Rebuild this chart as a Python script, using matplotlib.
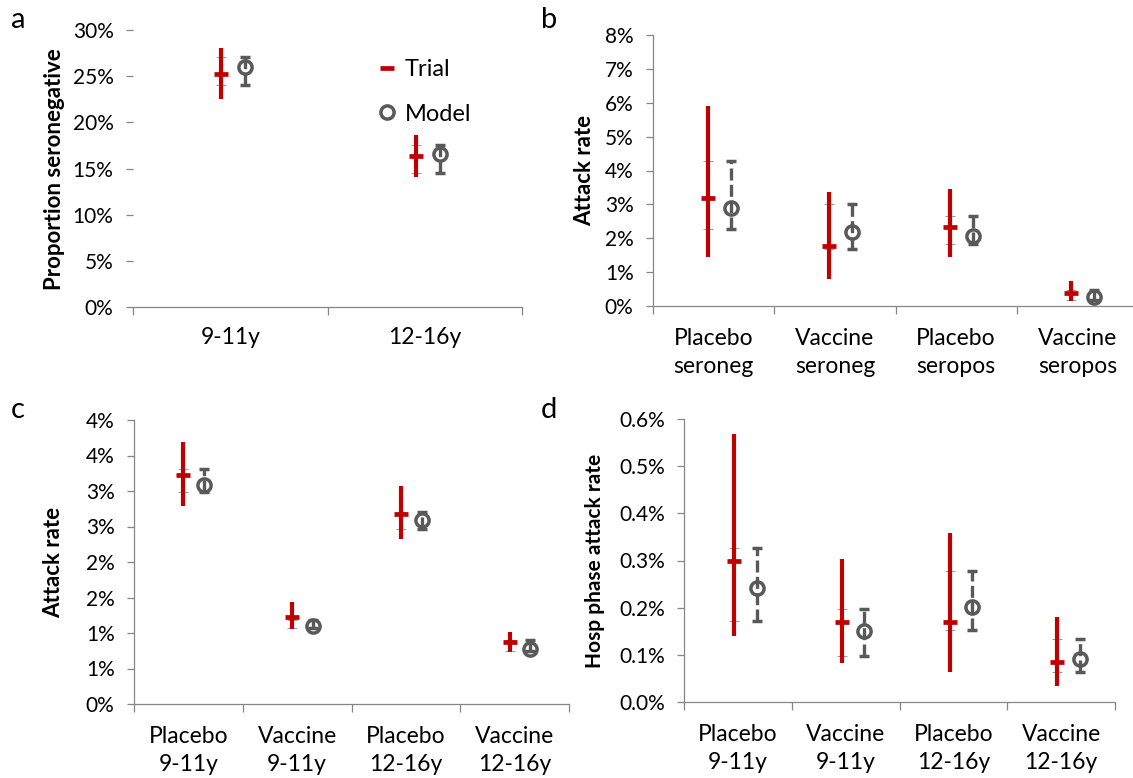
import numpy as np
import matplotlib
matplotlib.use("Agg")
import matplotlib.pyplot as plt
import matplotlib.ticker as mticker
from matplotlib.lines import Line2D

plt.rcParams["font.family"] = ["Lato", "DejaVu Sans"]

# ── Data (all values in %) ─────────────────────────────────────────────────────
age_groups = ["9-11y", "12-16y"]
seroneg_trial    = [25.2, 16.4]
seroneg_trial_lo = [22.5, 14.1]
seroneg_trial_hi = [28.0, 18.6]
seroneg_model    = [26.0, 16.6]
seroneg_model_lo = [24.1, 14.5]
seroneg_model_hi = [27.1, 17.6]

serostatus_groups = ["Placebo\nseroneg", "Vaccine\nseroneg",
                     "Placebo\nseropos", "Vaccine\nseropos"]
ar_sero_trial    = [3.18, 1.78, 2.33, 0.39]
ar_sero_trial_lo = [1.44, 0.81, 1.45, 0.16]
ar_sero_trial_hi = [5.91, 3.37, 3.44, 0.73]
ar_sero_model    = [2.88, 2.17, 2.07, 0.26]
ar_sero_model_lo = [2.26, 1.67, 1.83, 0.18]
ar_sero_model_hi = [4.29, 3.00, 2.66, 0.47]

arm_age_groups = ["Placebo\n9-11y", "Vaccine\n9-11y",
                  "Placebo\n12-16y", "Vaccine\n12-16y"]
ar_age_trial    = [3.23, 1.23, 2.68, 0.87]
ar_age_trial_lo = [2.79, 1.05, 2.32, 0.73]
ar_age_trial_hi = [3.69, 1.44, 3.07, 1.01]
ar_age_model    = [3.09, 1.10, 2.59, 0.78]
ar_age_model_lo = [2.99, 1.07, 2.47, 0.74]
ar_age_model_hi = [3.31, 1.19, 2.70, 0.90]

hosp_trial    = [0.300, 0.170, 0.170, 0.084]
hosp_trial_lo = [0.140, 0.083, 0.064, 0.033]
hosp_trial_hi = [0.569, 0.303, 0.359, 0.181]
hosp_model    = [0.241, 0.151, 0.202, 0.090]
hosp_model_lo = [0.171, 0.097, 0.152, 0.064]
hosp_model_hi = [0.327, 0.197, 0.278, 0.133]

# ── Style ──────────────────────────────────────────────────────────────────────
C_TRIAL = "#C00000"
C_MODEL = "#595959"
C_AXIS  = "#868686"
C_TICK  = "#9A9A9A"

W, H = 1133, 778
fig = plt.figure(figsize=(W / 100, H / 100), dpi=100)


def axes_px(left, top, right, bottom):
    return fig.add_axes([left / W, 1 - bottom / H, (right - left) / W, (bottom - top) / H])


def draw_panel(ax, cats, trial, t_lo, t_hi, model, m_lo, m_hi, offs):
    x = np.arange(len(cats))
    trial, t_lo, t_hi = map(np.asarray, (trial, t_lo, t_hi))
    model, m_lo, m_hi = map(np.asarray, (model, m_lo, m_hi))
    xt = x + offs[0]
    xm = x + offs[1]

    # thin grey ticks on the trial bar at the model interval
    ax.plot(np.r_[xt, xt], np.r_[m_lo, m_hi], linestyle="none", marker="_",
            markersize=7.5, markeredgewidth=0.7, color=C_TICK, zorder=2)
    # trial: solid red interval + dash marker
    ax.errorbar(xt, trial, yerr=[trial - t_lo, t_hi - trial], fmt="_",
                color=C_TRIAL, ecolor=C_TRIAL, elinewidth=3.0, capsize=0,
                markersize=10, markeredgewidth=3.4, zorder=3)
    # model: dashed grey interval with caps + open circle
    eb = ax.errorbar(xm, model, yerr=[model - m_lo, m_hi - model], fmt="o",
                     color=C_MODEL, ecolor=C_MODEL, elinewidth=2.4, capsize=3.8,
                     capthick=3.0, markersize=9.5, markeredgewidth=2.5,
                     markerfacecolor="none", zorder=4)
    eb[2][0].set_linestyle((0, (3.6, 1.3)))

    ax.set_xlim(-0.5, len(cats) - 0.5)
    ax.set_xticks(x)
    ax.set_xticklabels(cats, fontsize=16.5, linespacing=1.4)
    ax.set_xticks(np.arange(len(cats) + 1) - 0.5, minor=True)
    ax.tick_params(axis="x", which="major", length=0, pad=16)
    ax.tick_params(axis="x", which="minor", length=6, width=0.9, color=C_AXIS,
                   direction="out")
    ax.tick_params(axis="y", length=5, width=0.9, color=C_AXIS, labelsize=15,
                   pad=9, direction="out")
    for side in ("top", "right"):
        ax.spines[side].set_visible(False)
    for side in ("left", "bottom"):
        ax.spines[side].set_color(C_AXIS)
        ax.spines[side].set_linewidth(0.9)


# ── Panel a ────────────────────────────────────────────────────────────────────
ax_a = axes_px(133, 30, 522, 307.3)
draw_panel(ax_a, age_groups, seroneg_trial, seroneg_trial_lo, seroneg_trial_hi,
           seroneg_model, seroneg_model_lo, seroneg_model_hi, (-0.046, 0.077))
ax_a.spines["left"].set_visible(False)
ax_a.set_ylim(0, 30)
ax_a.set_yticks(np.arange(0, 31, 5))
ax_a.yaxis.set_major_formatter(mticker.FuncFormatter(lambda v, p: f"{v:.0f}%"))
ax_a.tick_params(axis="x", which="major", pad=14)
ax_a.set_ylabel("Proportion seronegative", fontsize=16, fontweight="bold")
ax_a.yaxis.set_label_coords(-0.175, 0.5)

legend_handles = [
    Line2D([0], [0], color=C_TRIAL, marker="_", markersize=10,
           markeredgewidth=3.4, linestyle="none", label="Trial"),
    Line2D([0], [0], color=C_MODEL, marker="o", markersize=9.5,
           markeredgewidth=2.5, markerfacecolor="none", linestyle="none",
           label="Model"),
]
ax_a.legend(handles=legend_handles, loc="upper left", bbox_to_anchor=(0.622, 0.895),
            frameon=False, fontsize=17, handlelength=1.0, handletextpad=0.25,
            labelspacing=1.0, borderpad=0, borderaxespad=0)

# ── Panel b ────────────────────────────────────────────────────────────────────
ax_b = axes_px(653, 35, 1138, 306)
draw_panel(ax_b, serostatus_groups, ar_sero_trial, ar_sero_trial_lo, ar_sero_trial_hi,
           ar_sero_model, ar_sero_model_lo, ar_sero_model_hi, (-0.05, 0.14))
ax_b.set_ylim(0, 8)
ax_b.set_yticks(np.arange(0, 9, 1))
ax_b.yaxis.set_major_formatter(mticker.FuncFormatter(lambda v, p: f"{v:.0f}%"))
ax_b.set_ylabel("Attack rate", fontsize=16, fontweight="bold")
ax_b.yaxis.set_label_coords(-0.119, 0.5)

# ── Panel c ────────────────────────────────────────────────────────────────────
ax_c = axes_px(134, 420, 569, 704)
draw_panel(ax_c, arm_age_groups, ar_age_trial, ar_age_trial_lo, ar_age_trial_hi,
           ar_age_model, ar_age_model_lo, ar_age_model_hi, (-0.046, 0.145))
ax_c.set_ylim(0, 4)
ax_c.set_yticks(np.arange(0, 4.01, 0.5))
# whole-percent labels, halves rounded up
ax_c.yaxis.set_major_formatter(
    mticker.FuncFormatter(lambda v, p: f"{int(np.floor(v + 0.5 + 1e-9))}%"))
ax_c.set_ylabel("Attack rate", fontsize=16, fontweight="bold")
ax_c.yaxis.set_label_coords(-0.161, 0.5)

# ── Panel d ────────────────────────────────────────────────────────────────────
ax_d = axes_px(684.3, 419.3, 1115, 701.7)
draw_panel(ax_d, arm_age_groups, hosp_trial, hosp_trial_lo, hosp_trial_hi,
           hosp_model, hosp_model_lo, hosp_model_hi, (-0.037, 0.172))
ax_d.set_ylim(0, 0.6)
ax_d.set_yticks(np.arange(0, 0.61, 0.1))
ax_d.yaxis.set_major_formatter(mticker.FuncFormatter(lambda v, p: f"{v:.1f}%"))
ax_d.set_ylabel("Hosp phase attack rate", fontsize=15, fontweight="bold")
ax_d.yaxis.set_label_coords(-0.184, 0.5)

# ── Panel letters ──────────────────────────────────────────────────────────────
for lbl, (px, py) in {"a": (11, 20), "b": (541, 20), "c": (11, 410), "d": (541, 410)}.items():
    fig.text(px / W, 1 - py / H, lbl, fontsize=21, ha="left", va="center")

fig.savefig("out.png", dpi=100)
